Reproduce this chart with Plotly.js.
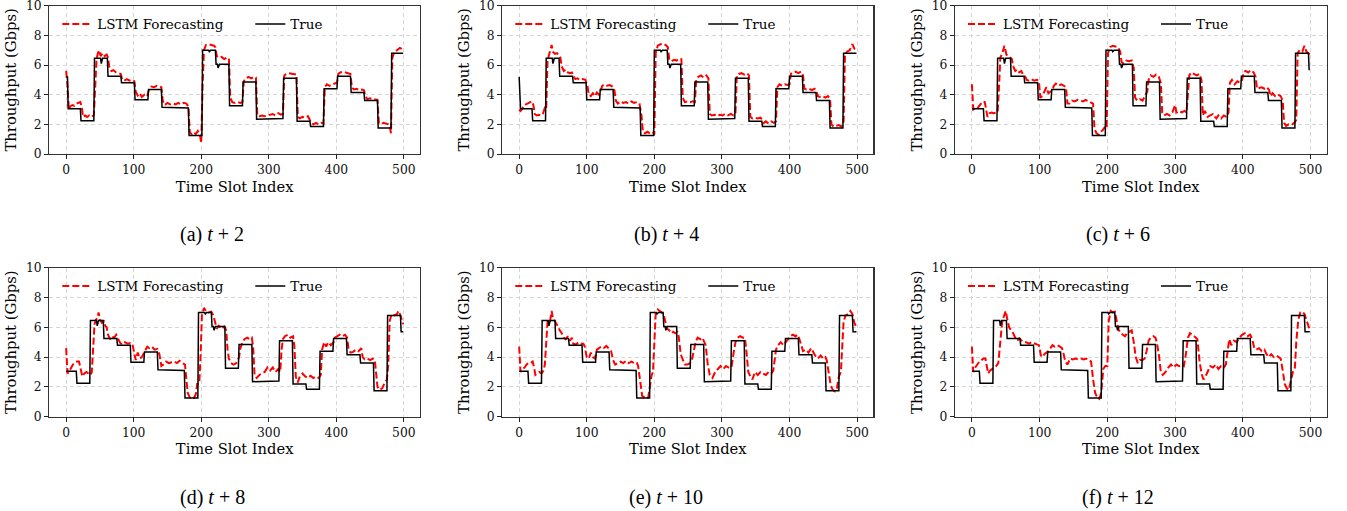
<!DOCTYPE html>
<html>
<head>
<meta charset="utf-8">
<script src="https://cdn.plot.ly/plotly-3.0.1.min.js"></script>
<style>
  html, body { margin: 0; padding: 0; background: #ffffff; }
  #chart { width: 1347px; height: 511px; }
</style>
</head>
<body>
<div id="chart"></div>
<script>
// ---------------- DATA ----------------
// Forecast horizons of the six panels
const horizons = [2, 4, 6, 8, 10, 12];
const panelLabels = ["(a)", "(b)", "(c)", "(d)", "(e)", "(f)"];

// Underlying true throughput (Gbps): step segments (start slot, level)
const trueSegStart = [0, 5, 24, 44, 64, 84, 104, 124, 144, 164, 184, 204, 224, 244, 264, 284, 304, 324, 344, 364, 384, 404, 424, 444, 464, 484, 504];
const trueSegLevel = [5.2, 3.05, 2.25, 6.45, 5.25, 4.8, 3.65, 4.35, 3.15, 3.1, 1.25, 7.0, 6.05, 3.25, 4.85, 2.35, 2.4, 5.1, 2.2, 1.85, 4.4, 5.25, 4.15, 3.6, 1.75, 6.8, 5.7];
// Short one-slot dips in the true series
const trueDipSlot = [54, 214, 227];
const trueDipLevel = [6.1, 6.9, 5.8];

// LSTM forecasts, [time slot, Gbps]
const lstm_t2 = [[0,5.6],[2,4.6],[4,3.0],[6,3.2],[9,3.3],[12,3.25],[15,3.4],[18,3.45],[21,3.5],[23,3.2],[25,2.5],[28,2.6],[31,2.5],[34,2.6],[37,2.5],[41,2.6],[43,5.0],[45,6.4],[47,6.8],[49,7.0],[51,6.6],[54,6.8],[57,6.6],[60,6.7],[62,6.5],[64,5.8],[67,5.6],[70,5.65],[74,5.5],[77,5.45],[81,5.4],[83,5.0],[86,4.95],[90,5.05],[94,4.95],[98,5.0],[101,4.9],[103,4.2],[106,3.95],[109,4.1],[112,3.85],[116,4.0],[120,3.9],[123,4.4],[126,4.55],[130,4.5],[134,4.6],[138,4.55],[141,4.5],[143,3.6],[146,3.3],[150,3.45],[154,3.35],[158,3.4],[162,3.35],[166,3.45],[170,3.35],[174,3.45],[178,3.4],[181,3.2],[183,1.5],[186,1.3],[189,1.45],[192,1.35],[195,1.55],[198,1.3],[200,0.75],[202,4.5],[204,7.0],[207,7.35],[211,7.4],[215,7.35],[219,7.3],[221,7.2],[223,6.6],[226,6.5],[230,6.55],[234,6.4],[238,6.5],[241,6.45],[243,3.8],[246,3.5],[250,3.45],[254,3.5],[258,3.45],[261,3.5],[263,4.9],[266,5.1],[270,5.2],[274,5.1],[278,5.2],[281,5.15],[283,2.6],[286,2.55],[290,2.6],[294,2.55],[298,2.6],[302,2.65],[306,2.7],[310,2.6],[314,2.75],[318,2.65],[321,2.7],[323,5.3],[326,5.4],[330,5.45],[334,5.4],[338,5.4],[341,5.35],[343,2.5],[346,2.4],[350,2.5],[354,2.45],[358,2.55],[361,2.3],[363,2.1],[366,2.0],[370,2.1],[374,2.0],[378,2.1],[381,2.05],[383,4.5],[386,4.7],[390,4.6],[394,4.7],[398,4.75],[401,4.8],[403,5.4],[406,5.5],[410,5.55],[414,5.5],[418,5.45],[421,5.4],[423,4.5],[426,4.35],[430,4.4],[434,4.3],[438,4.35],[441,4.3],[443,3.9],[446,3.7],[450,3.75],[454,3.7],[458,3.7],[461,3.65],[463,2.1],[466,2.0],[470,2.1],[474,2.05],[477,2.0],[479,1.9],[481,1.4],[483,6.5],[486,6.9],[490,7.0],[494,7.15],[499,7.05]];
const lstm_t4 = [[0,3.0],[2,2.9],[4,3.0],[7,3.3],[10,3.35],[13,3.4],[16,3.5],[19,3.55],[21,3.3],[23,2.7],[26,2.6],[29,2.65],[32,2.6],[35,2.7],[38,3.1],[40,3.0],[42,6.3],[44,6.6],[46,6.9],[48,7.35],[50,6.9],[53,6.75],[56,6.8],[59,6.6],[61,6.5],[63,5.9],[66,5.6],[69,5.7],[72,5.5],[75,5.45],[78,5.5],[81,5.2],[83,5.05],[86,5.1],[90,5.0],[94,5.05],[98,5.0],[101,4.6],[103,4.0],[106,3.9],[109,4.1],[112,3.9],[115,4.15],[118,4.0],[121,4.3],[123,4.6],[126,4.7],[130,4.6],[134,4.65],[138,4.55],[141,4.3],[143,3.6],[146,3.4],[150,3.55],[154,3.45],[158,3.5],[162,3.4],[166,3.55],[170,3.45],[174,3.5],[178,3.4],[181,2.6],[183,1.5],[186,1.4],[190,1.5],[194,1.35],[198,1.45],[200,1.3],[202,6.8],[205,7.3],[209,7.4],[213,7.45],[217,7.35],[220,7.2],[222,6.4],[225,6.25],[229,6.35],[233,6.3],[237,6.45],[240,6.4],[242,3.8],[245,3.5],[249,3.55],[253,3.5],[257,3.55],[260,3.5],[262,5.0],[265,5.2],[269,5.3],[273,5.15],[277,5.3],[280,5.1],[282,2.7],[285,2.6],[289,2.65],[293,2.55],[297,2.65],[301,2.6],[305,2.7],[309,2.6],[313,2.7],[317,2.6],[320,2.7],[322,5.3],[325,5.4],[329,5.45],[333,5.35],[337,5.45],[340,5.3],[342,2.5],[345,2.4],[349,2.45],[353,2.4],[357,2.45],[360,2.3],[362,2.1],[365,2.2],[369,2.05],[373,2.2],[377,2.1],[380,2.2],[382,4.5],[385,4.7],[389,4.6],[393,4.7],[397,4.65],[400,4.7],[402,5.4],[405,5.5],[409,5.55],[413,5.45],[417,5.55],[420,5.3],[422,4.4],[425,4.35],[429,4.4],[433,4.3],[437,4.4],[440,4.2],[442,3.9],[445,3.85],[449,3.9],[453,3.8],[457,3.9],[460,3.7],[462,2.0],[465,1.85],[469,1.9],[473,1.95],[477,1.85],[480,2.2],[482,6.7],[485,6.9],[489,7.0],[493,7.4],[496,7.1],[499,7.0]];
const lstm_t6 = [[0,4.7],[2,3.0],[4,3.05],[7,3.0],[10,3.2],[13,3.4],[16,3.55],[19,3.5],[21,3.0],[23,2.5],[26,2.75],[29,2.8],[32,2.75],[35,2.8],[38,2.8],[40,4.5],[42,6.5],[45,6.8],[48,7.3],[51,6.7],[54,6.6],[57,6.5],[59,6.4],[61,5.9],[64,5.6],[67,5.7],[70,5.5],[73,5.6],[76,5.3],[79,5.2],[81,5.0],[84,4.95],[88,5.05],[92,4.95],[96,5.0],[99,4.9],[101,3.8],[104,3.9],[107,4.2],[110,4.5],[113,4.1],[116,4.2],[119,4.3],[121,4.6],[124,4.75],[128,4.6],[132,4.7],[136,4.6],[139,4.5],[141,3.4],[144,3.4],[148,3.6],[152,3.55],[156,3.65],[160,3.6],[164,3.55],[168,3.65],[172,3.55],[176,3.5],[179,3.4],[181,1.7],[184,1.4],[187,1.3],[190,1.5],[193,1.6],[196,1.8],[199,1.7],[201,6.8],[204,7.2],[208,7.3],[212,7.25],[216,7.2],[219,6.9],[221,6.2],[224,6.1],[228,6.3],[232,6.25],[236,6.3],[239,5.8],[241,3.8],[244,3.6],[248,3.7],[252,3.6],[256,4.0],[259,4.2],[261,5.0],[264,5.3],[268,5.2],[272,5.35],[276,5.2],[279,4.8],[281,2.8],[284,2.6],[288,2.7],[292,2.6],[296,2.8],[300,3.3],[302,2.8],[306,2.9],[310,2.8],[314,2.9],[317,2.8],[319,4.2],[321,5.3],[324,5.5],[328,5.4],[332,5.3],[336,5.4],[339,5.0],[341,2.6],[344,2.9],[348,2.5],[352,2.6],[356,2.7],[359,2.5],[361,2.4],[364,2.6],[368,2.4],[372,2.6],[376,2.5],[379,2.8],[381,4.8],[384,5.0],[388,4.7],[392,4.9],[396,4.8],[399,5.0],[401,5.5],[404,5.6],[408,5.5],[412,5.65],[416,5.5],[419,5.2],[421,4.4],[424,4.45],[428,4.5],[432,4.4],[436,4.5],[439,4.3],[441,3.9],[444,4.1],[448,3.9],[452,4.0],[456,3.9],[459,3.6],[461,2.1],[464,1.9],[468,2.0],[472,1.95],[476,2.1],[479,2.3],[481,6.8],[484,7.0],[488,6.9],[491,7.3],[494,6.9],[497,6.8],[499,6.7]];
const lstm_t8 = [[0,4.6],[2,2.9],[4,3.0],[7,3.3],[10,3.5],[13,3.6],[16,3.7],[19,3.7],[22,3.2],[24,2.7],[27,2.9],[30,3.0],[33,2.9],[36,2.8],[38,3.0],[40,4.5],[42,6.2],[44,6.5],[46,6.6],[48,7.0],[50,6.5],[53,6.3],[56,6.4],[58,6.1],[60,6.0],[62,5.5],[65,5.2],[68,5.4],[71,5.3],[74,5.5],[77,5.2],[80,4.95],[83,4.85],[87,5.0],[91,4.9],[95,4.95],[98,4.9],[100,4.5],[103,3.8],[106,4.3],[109,3.9],[112,4.0],[115,4.3],[118,4.5],[120,4.7],[123,4.6],[127,4.7],[131,4.5],[135,4.55],[138,4.2],[141,3.4],[144,3.5],[148,3.7],[152,3.6],[156,3.65],[160,3.7],[164,3.6],[168,3.75],[172,3.6],[176,3.5],[178,2.5],[180,1.6],[183,1.3],[186,1.2],[189,1.25],[192,1.5],[194,2.2],[197,2.2],[199,4.0],[201,6.8],[204,7.3],[207,7.1],[211,7.0],[215,7.05],[218,6.8],[220,6.4],[223,5.9],[226,6.1],[230,5.9],[234,6.05],[237,5.8],[239,4.5],[241,3.9],[244,3.6],[248,3.5],[252,3.6],[256,4.0],[258,4.6],[261,5.0],[264,5.2],[268,5.3],[272,5.2],[275,5.3],[277,4.6],[279,2.8],[282,2.6],[286,2.8],[290,2.9],[294,3.0],[298,3.3],[302,3.1],[306,3.3],[310,3.0],[314,3.2],[317,3.0],[319,4.5],[321,5.2],[324,5.4],[328,5.5],[332,5.3],[336,5.4],[338,4.7],[340,2.7],[343,2.3],[346,2.7],[350,2.9],[354,2.7],[358,2.6],[362,2.75],[366,2.6],[370,2.7],[374,2.6],[377,2.8],[379,4.5],[382,5.0],[385,4.7],[388,5.0],[392,4.8],[396,5.0],[398,5.3],[401,5.4],[405,5.5],[409,5.4],[413,5.5],[416,5.3],[418,4.6],[421,4.3],[425,4.35],[429,4.5],[433,4.4],[437,4.6],[439,4.0],[442,3.85],[446,3.9],[450,3.8],[454,3.9],[457,3.8],[459,2.8],[461,2.0],[464,1.8],[468,1.9],[472,2.3],[475,2.5],[477,3.5],[479,6.4],[482,6.9],[486,6.8],[490,6.9],[492,7.1],[495,6.8],[497,6.4],[499,6.2]];
const lstm_t10 = [[0,4.7],[2,3.0],[5,3.2],[8,3.3],[11,3.5],[14,3.6],[17,3.6],[20,3.7],[22,3.3],[24,2.8],[27,2.9],[30,3.0],[33,2.9],[36,3.1],[38,3.5],[40,5.0],[42,6.4],[44,6.3],[46,6.5],[48,7.1],[50,6.6],[53,6.4],[56,6.2],[58,6.0],[60,5.8],[63,5.6],[66,5.3],[69,5.2],[72,5.4],[75,5.1],[78,5.3],[80,4.9],[84,4.85],[88,5.0],[92,4.9],[95,4.9],[97,4.7],[100,4.0],[103,3.9],[106,4.3],[109,4.0],[112,3.9],[115,4.5],[118,4.6],[121,4.7],[125,4.6],[129,4.75],[133,4.55],[136,4.4],[139,3.8],[142,3.5],[146,3.6],[150,3.7],[154,3.6],[158,3.75],[162,3.6],[166,3.7],[170,3.6],[174,3.65],[176,3.4],[179,2.3],[182,1.4],[185,1.3],[188,1.2],[191,1.3],[194,2.4],[196,2.8],[198,3.0],[200,5.5],[202,6.9],[205,7.2],[208,7.1],[211,7.0],[214,6.8],[216,6.5],[219,5.9],[222,5.8],[225,5.6],[228,5.7],[231,5.6],[234,5.7],[236,5.4],[239,4.2],[242,3.8],[245,3.5],[249,3.5],[253,3.6],[256,3.9],[258,4.4],[261,5.0],[264,5.3],[268,5.2],[271,5.3],[274,5.0],[276,4.8],[279,3.5],[282,2.8],[286,2.6],[290,3.0],[294,3.2],[298,3.4],[302,3.2],[306,3.4],[310,3.3],[314,3.3],[317,4.2],[320,5.0],[323,5.3],[327,5.4],[331,5.3],[334,5.3],[336,4.5],[339,3.0],[342,2.7],[345,2.5],[349,3.0],[353,2.8],[357,3.0],[361,2.9],[365,2.8],[369,3.0],[373,2.9],[376,3.1],[378,4.0],[380,4.5],[383,4.8],[387,5.0],[391,4.8],[395,5.0],[398,5.2],[401,5.4],[405,5.5],[409,5.4],[412,5.5],[414,5.3],[417,4.8],[420,4.4],[424,4.5],[428,4.3],[432,4.6],[435,4.3],[438,4.1],[442,3.9],[446,4.1],[450,3.9],[453,4.0],[455,3.8],[458,2.9],[461,2.1],[464,1.8],[467,1.7],[470,1.9],[473,2.7],[476,3.0],[478,4.5],[480,6.4],[483,6.8],[487,6.9],[490,7.1],[493,6.9],[496,6.3],[499,6.0]];
const lstm_t12 = [[0,4.7],[2,3.0],[5,3.3],[8,3.5],[11,3.7],[14,3.8],[17,3.9],[20,3.9],[22,3.3],[24,2.9],[27,3.1],[30,3.2],[33,3.3],[36,3.4],[39,3.6],[41,4.5],[43,5.8],[45,6.5],[47,6.7],[50,7.1],[52,6.6],[55,6.0],[58,5.8],[61,5.6],[64,5.3],[67,5.1],[70,5.25],[73,5.1],[76,5.0],[80,5.0],[84,4.9],[88,5.0],[92,4.95],[96,4.85],[99,4.8],[102,4.1],[104,4.0],[107,4.2],[110,4.3],[113,4.4],[116,4.6],[119,4.8],[122,4.7],[126,4.8],[130,4.7],[133,4.6],[135,4.3],[138,3.7],[141,3.5],[145,3.9],[149,3.85],[153,3.9],[157,3.85],[161,3.9],[165,3.85],[169,3.9],[173,3.8],[176,3.7],[179,2.5],[182,1.6],[185,1.3],[188,1.2],[191,1.6],[194,3.2],[197,3.4],[200,3.4],[202,6.4],[205,7.1],[208,7.0],[211,7.05],[214,6.4],[217,5.8],[220,5.6],[223,5.5],[226,5.4],[229,5.6],[233,5.7],[236,5.8],[239,5.0],[242,4.0],[245,3.6],[248,3.8],[252,3.8],[255,3.9],[258,4.4],[261,5.1],[264,5.3],[268,5.4],[271,5.3],[273,5.0],[276,4.2],[279,3.0],[282,2.8],[286,3.0],[290,3.3],[294,3.5],[298,3.3],[302,3.5],[306,3.4],[310,3.5],[313,3.4],[316,4.2],[319,5.3],[322,5.6],[326,5.5],[330,5.3],[333,5.2],[336,3.8],[339,2.9],[342,2.5],[345,2.7],[348,3.0],[352,3.4],[356,3.3],[360,3.5],[364,3.2],[368,3.4],[372,3.3],[375,3.5],[378,4.5],[380,5.2],[383,4.8],[387,5.1],[391,5.0],[395,5.3],[399,5.5],[403,5.6],[407,5.4],[411,5.5],[414,5.2],[417,4.6],[420,4.5],[424,4.6],[428,4.4],[432,4.5],[435,4.2],[438,4.0],[442,4.2],[446,4.0],[450,4.1],[453,4.0],[456,3.9],[459,3.1],[462,2.2],[465,1.9],[468,1.8],[471,2.4],[474,3.0],[477,3.3],[479,5.0],[482,6.5],[485,7.0],[488,7.05],[491,6.9],[494,6.5],[497,6.1],[499,5.8]];
const lstmSeries = [lstm_t2, lstm_t4, lstm_t6, lstm_t8, lstm_t10, lstm_t12];

// Axis tick labels
const xTicks = [0, 100, 200, 300, 400, 500];
const yTicks = [0, 2, 4, 6, 8, 10];
const nSlots = 500;

// ---------------- BUILD ----------------
// expand step segments into per-slot true values
const trueFull = [];
for (let s = 0; s < trueSegStart.length; s++) {
  const end = (s + 1 < trueSegStart.length) ? trueSegStart[s + 1] : 520;
  for (let t = trueSegStart[s]; t < end; t++) trueFull[t] = trueSegLevel[s];
}
trueDipSlot.forEach((t, i) => { trueFull[t] = trueDipLevel[i]; });

const W = 1347, H = 511;
const colL = [49.3, 502.3, 955.0];
const colR = [420.0, 873.3, 1326.7];
const rowT = [5.7, 267.7];
const rowB = [154.0, 416.7];
const capX = [212, 666, 1118];
const capY = [234, 497];

const serif = "DejaVu Serif, serif";
const data = [];
const layout = {
  width: W, height: H,
  margin: {l: 0, r: 0, t: 0, b: 0, autoexpand: false},
  paper_bgcolor: "#ffffff",
  plot_bgcolor: "#ffffff",
  showlegend: true,
  annotations: []
};

for (let p = 0; p < 6; p++) {
  const r = Math.floor(p / 3), c = p % 3;
  const h = horizons[p];
  const sfx = p === 0 ? "" : String(p + 1);
  const xa = "x" + sfx, ya = "y" + sfx;
  const lg = "legend" + sfx;

  const fc = lstmSeries[p];
  data.push({
    type: "scatter", mode: "lines",
    x: fc.map(d => d[0]), y: fc.map(d => d[1]),
    xaxis: xa, yaxis: ya, legend: lg,
    name: "LSTM Forecasting",
    line: {color: "#ff0000", width: 2, dash: "7px,3px"}
  });

  const tx = [], ty = [];
  for (let i = 0; i < nSlots; i++) { tx.push(i); ty.push(trueFull[i + h]); }
  data.push({
    type: "scatter", mode: "lines",
    x: tx, y: ty,
    xaxis: xa, yaxis: ya, legend: lg,
    name: "True",
    line: {color: "#000000", width: 1.5}
  });

  const axCommon = {
    showline: true, mirror: true, linecolor: "#333333", linewidth: 1.2,
    ticks: "outside", ticklen: 4, tickwidth: 1, tickcolor: "#222",
    showgrid: true, gridcolor: "#d6d6d6", gridwidth: 1, griddash: "4px,3px",
    zeroline: false, automargin: false, fixedrange: true,
    ticklabeloverflow: "allow",
    tickfont: {family: serif, size: 12.3, color: "#111"}
  };
  layout["xaxis" + sfx] = Object.assign({}, axCommon, {
    domain: [colL[c] / W, colR[c] / W],
    anchor: ya,
    range: [-24.95, 523.95],
    tickmode: "array", tickvals: xTicks, ticktext: xTicks.map(String),
    title: {text: "Time Slot Index", font: {family: serif, size: 14.7, color: "#000"}, standoff: 5}
  });
  layout["yaxis" + sfx] = Object.assign({}, axCommon, {
    domain: [1 - rowB[r] / H, 1 - rowT[r] / H],
    anchor: xa,
    range: [0, 10],
    tickmode: "array", tickvals: yTicks, ticktext: yTicks.map(String),
    title: {text: "Throughput (Gbps)", font: {family: serif, size: 14.8, color: "#000"}, standoff: 5}
  });
  layout[lg] = {
    x: (colL[c] + 8) / W, y: 1 - (rowT[r] + 3) / H,
    xanchor: "left", yanchor: "top",
    orientation: "h",
    bgcolor: "rgba(0,0,0,0)", borderwidth: 0,
    font: {family: serif, size: 13.5, color: "#000"},
    entrywidth: 148, entrywidthmode: "pixels",
    traceorder: "normal"
  };
  layout.annotations.push({
    xref: "paper", yref: "paper",
    x: capX[c] / W, y: 1 - capY[r] / H,
    xanchor: "center", yanchor: "middle",
    showarrow: false,
    text: panelLabels[p] + " <i>t</i>\u2005+\u2005" + h,
    font: {family: "Liberation Serif, serif", size: 20, color: "#000"}
  });
}

Plotly.newPlot("chart", data, layout, {displayModeBar: false, staticPlot: true});
</script>
</body>
</html>
